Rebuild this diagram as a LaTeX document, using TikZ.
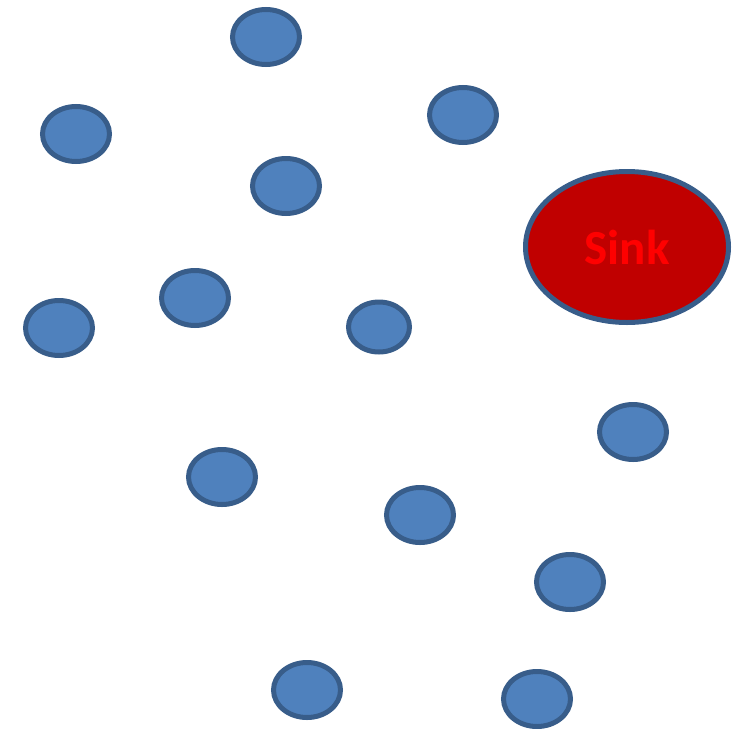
\documentclass[tikz,border=0pt]{standalone}
\usepackage{fontspec}
\newfontfamily\sinkfont{Carlito}[BoldFont={Carlito Bold}]
\usetikzlibrary{shapes.geometric}
\definecolor{nodefill}{HTML}{4F81BD}
\definecolor{nodeline}{HTML}{385D8A}
\definecolor{sinkfill}{HTML}{C00000}
\definecolor{sinktext}{HTML}{FF0000}
\begin{document}
\begin{tikzpicture}[x=1pt,y=-1pt,
  sensor/.style={ellipse, draw=nodeline, fill=nodefill, line width=5pt,
    inner sep=0pt, minimum width=67pt, minimum height=55pt},
  sinknode/.style={ellipse, draw=nodeline, fill=sinkfill, line width=5pt,
    inner sep=0pt, minimum width=203pt, minimum height=151pt,
    text=sinktext, font=\sinkfont\bfseries\fontsize{49}{49}\selectfont}]
\useasboundingbox (0,0) rectangle (746,728);
\node[sensor] (n1) at (266,37) {};
\node[sensor] (n2) at (76,134) {};
\node[sensor] (n3) at (463,115) {};
\node[sensor] (n4) at (286,186) {};
\node[sinknode] (sink) at (627,247) {Sink};
\node[sensor] (n6) at (195,298) {};
\node[sensor] (n7) at (59,328) {};
\node[sensor, minimum width=61pt, minimum height=50pt] (n8) at (379,327) {};
\node[sensor] (n9) at (633,432) {};
\node[sensor] (n10) at (222,477) {};
\node[sensor] (n11) at (420,515) {};
\node[sensor] (n12) at (570,582) {};
\node[sensor] (n13) at (307,690) {};
\node[sensor] (n14) at (537,699) {};
\end{tikzpicture}
\end{document}
